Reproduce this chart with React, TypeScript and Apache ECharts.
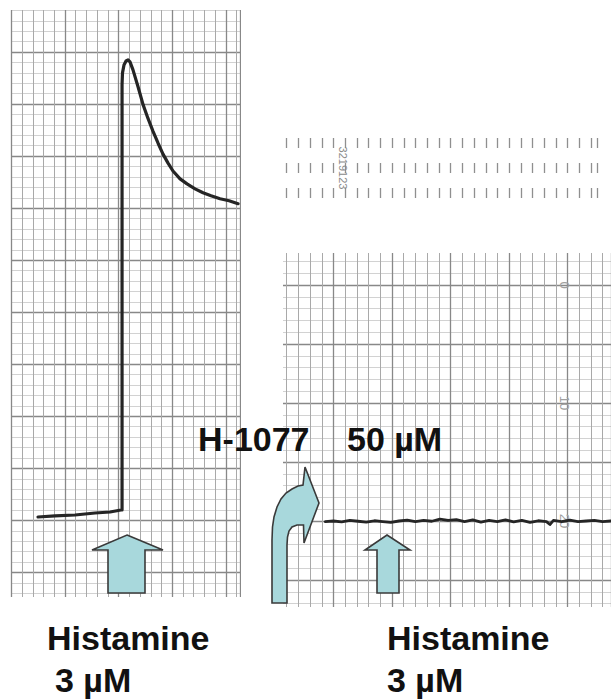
import React, { useEffect, useRef } from "react";
import * as echarts from "echarts";

// Left recording: histamine 3 µM (x: chart divisions, y: pen divisions)
const LEFT_TRACE: [number, number][] = [
  [2.48, 10.33], [4.07, 10.43], [5.93, 10.52], [7.8, 10.71], [9.2, 10.81], [10.22, 11.0],
  [10.32, 11.0], [10.32, 51.86], [10.36, 53.0], [10.5, 53.76], [10.69, 54.14], [10.88, 54.24],
  [11.06, 54.05], [11.34, 53.29], [11.81, 51.67], [12.28, 49.95], [12.74, 48.62], [13.21, 47.38],
  [13.68, 46.24], [14.14, 45.19], [14.61, 44.33], [15.07, 43.57], [15.73, 42.81], [16.38, 42.33],
  [17.13, 41.86], [17.87, 41.48], [18.62, 41.19], [19.46, 40.9], [20.3, 40.71], [21.14, 40.43],
];

// Right recording: after H-1077 50 µM, histamine 3 µM (recorder scale, 0 at top)
const RIGHT_TRACE: [number, number][] = [
  [4.3, 20.05], [5.0, 20.0], [5.7, 20.08], [6.4, 19.95], [7.1, 20.02], [7.8, 20.1], [8.5, 19.98],
  [9.2, 20.05], [9.9, 20.12], [10.6, 20.0], [11.3, 19.92], [12.0, 20.05], [12.7, 19.95], [13.4, 20.02],
  [14.1, 19.85], [14.8, 19.95], [15.5, 19.88], [16.2, 20.05], [16.9, 19.9], [17.6, 20.1], [18.3, 19.95],
  [19.0, 20.05], [19.7, 19.9], [20.4, 20.08], [21.1, 19.95], [21.8, 20.12], [22.5, 19.98], [23.2, 20.05],
  [23.5, 20.3], [23.8, 19.95], [24.5, 20.05], [25.2, 19.92], [25.9, 20.05], [26.6, 20.0], [27.3, 19.95],
  [28.0, 20.05], [28.7, 20.0],
];

const RIGHT_SCALE_LABELS = ["0", "10", "20"];
const PAPER_CODE = "3219123";
const DRUG_LABEL = "H-1077";
const DRUG_DOSE = "50 µM";
const AGONIST_LABEL = "Histamine";
const AGONIST_DOSE = "3 µM";

const MAJOR = "#888888";
const MINOR_V = "#a9a9a9";
const MINOR_H = "#d2d2d2";
const ARROW_FILL = "#a8d8dc";
const ARROW_STROKE = "#3a3a3a";
const FONT = '"Liberation Sans", Arial, sans-serif';

function paperAxis(gridIndex: number, min: number, max: number, opts: any = {}) {
  return {
    type: "value",
    gridIndex,
    min,
    max,
    interval: 5,
    axisLine: { show: false },
    axisTick: { show: false },
    axisLabel: { show: false },
    splitLine: { show: true, lineStyle: { color: MAJOR, width: 1.3 } },
    minorTick: { show: false, splitNumber: 5 },
    minorSplitLine: { show: true, lineStyle: { color: opts.minorColor || MINOR_V, width: 1 } },
    ...opts.extra,
  };
}

export default function App() {
  const ref = useRef<HTMLDivElement>(null);

  useEffect(() => {
    if (!ref.current) return;
    const chart = echarts.init(ref.current, null, { renderer: "svg" });

    const textStyle = (text: string, x: number, y: number) => ({
      type: "text",
      z: 20,
      style: {
        text,
        x,
        y,
        fill: "#111",
        fontSize: 34,
        fontWeight: "bold",
        fontFamily: FONT,
        align: "left",
        verticalAlign: "middle",
      },
    });

    const mask = (x: number, y: number, width: number, height: number) => ({
      type: "rect",
      z: 1,
      shape: { x, y, width, height },
      style: { fill: "#ffffff" },
    });

    chart.setOption({
      animation: false,
      backgroundColor: "#ffffff",
      grid: [
        { left: 11.4, top: -5.5, width: 228.6, height: 630 },
        { left: 275, top: 226, width: 336, height: 413 },
        { left: 286.7, top: 138, width: 310.3, height: 60 },
      ],
      xAxis: [
        paperAxis(0, 0, 21.32),
        paperAxis(1, 0, 28.72),
        {
          type: "value",
          gridIndex: 2,
          min: 0,
          max: 26.5,
          interval: 1,
          axisLine: { show: false },
          axisTick: { show: false },
          axisLabel: { show: false },
          splitLine: { show: true, lineStyle: { color: "#8f8f8f", width: 1.3, type: [10, 15] } },
        },
      ],
      yAxis: [
        paperAxis(0, 0, 60, { minorColor: MINOR_H }),
        paperAxis(1, -5, 30, {
          minorColor: MINOR_H,
          extra: {
            inverse: true,
            position: "right",
            axisLabel: {
              show: true,
              inside: true,
              margin: 40,
              rotate: -90,
              color: "#a0a0a0",
              fontSize: 13,
              fontFamily: FONT,
              formatter: (v: number) => (RIGHT_SCALE_LABELS.includes(String(v)) ? String(v) : ""),
            },
          },
        }),
        {
          type: "value",
          gridIndex: 2,
          min: 0,
          max: 1,
          axisLine: { show: false },
          axisTick: { show: false },
          axisLabel: { show: false },
          splitLine: { show: false },
        },
      ],
      series: [
        {
          type: "line",
          xAxisIndex: 0,
          yAxisIndex: 0,
          data: LEFT_TRACE,
          showSymbol: false,
          z: 5,
          lineStyle: { color: "#252525", width: 3.2, cap: "round", join: "round" },
        },
        {
          type: "line",
          xAxisIndex: 1,
          yAxisIndex: 1,
          data: RIGHT_TRACE,
          showSymbol: false,
          z: 5,
          lineStyle: { color: "#252525", width: 2.8, cap: "round", join: "round" },
        },
      ],
      graphic: [
        mask(0, 0, 241, 10),
        mask(0, 597, 241, 103),
        mask(241, 0, 42, 700),
        mask(283, 200, 328, 53),
        mask(283, 607, 328, 93),
        {
          type: "text",
          z: 20,
          x: 343,
          y: 168,
          rotation: -Math.PI / 2,
          style: {
            text: PAPER_CODE,
            fill: "#8a8a8a",
            fontSize: 11,
            fontFamily: FONT,
            align: "center",
            verticalAlign: "middle",
          },
        },
        // left up arrow
        {
          type: "polygon",
          z: 20,
          shape: {
            points: [
              [127, 535], [163, 550], [145, 550], [145, 593], [108, 593], [108, 550], [92, 550],
            ],
          },
          style: { fill: ARROW_FILL, stroke: ARROW_STROKE, lineWidth: 1.6 },
        },
        // right up arrow
        {
          type: "polygon",
          z: 20,
          shape: {
            points: [
              [387, 535], [410, 550], [399, 550], [399, 593], [377, 593], [377, 550], [365, 550],
            ],
          },
          style: { fill: ARROW_FILL, stroke: ARROW_STROKE, lineWidth: 1.6 },
        },
        // curved arrow (H-1077 addition)
        {
          type: "polygon",
          z: 20,
          shape: {
            points: [
              [272, 603], [272, 540], [272.5, 527], [274, 517], [277, 507], [281, 499], [286, 493],
              [292, 489], [298, 486], [303, 485], [305, 467], [319, 503], [304, 543], [303.5, 525],
              [297, 525], [292, 527], [289, 531], [287.5, 537], [287, 545], [287, 603],
            ],
          },
          style: { fill: ARROW_FILL, stroke: ARROW_STROKE, lineWidth: 1.6 },
        },
        textStyle(DRUG_LABEL, 198, 439),
        textStyle(DRUG_DOSE, 347, 439),
        textStyle(AGONIST_LABEL, 47, 638),
        textStyle(AGONIST_DOSE, 55, 680),
        textStyle(AGONIST_LABEL, 387, 638),
        textStyle(AGONIST_DOSE, 387, 680),
      ],
    });

    return () => chart.dispose();
  }, []);

  return (
    <div
      ref={ref}
      style={{ position: "absolute", left: 0, top: 0, width: 611, height: 700 }}
    />
  );
}
